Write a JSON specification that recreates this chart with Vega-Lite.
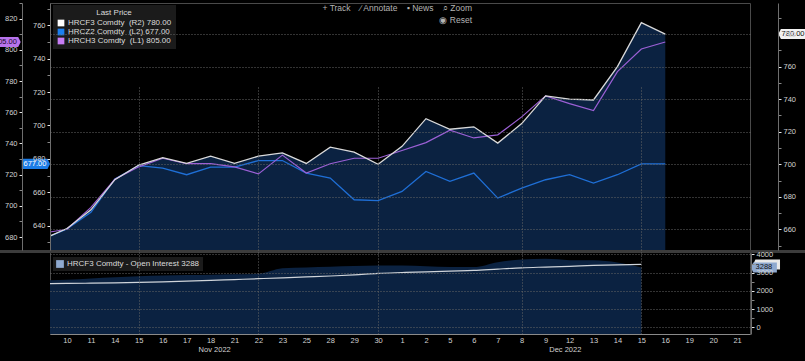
{
  "$schema": "https://vega.github.io/schema/vega-lite/v6.json",
  "width": 700,
  "height": 331,
  "autosize": {"type": "none"},
  "padding": {"left": 50, "top": 3, "right": 55, "bottom": 27},
  "background": "#000000",
  "title": {
    "text": ["+ Track\u00a0\u00a0\u00a0\u00a0\u2215 Annotate\u00a0\u00a0\u00a0\u00a0\u25aa News\u00a0\u00a0\u00a0\u00a0\u2315 Zoom", "\u25c9 Reset"],
    "frame": "group", "anchor": "start", "align": "right", "orient": "top",
    "dx": 422, "dy": 22, "offset": 0, "baseline": "top",
    "fontSize": 8.5, "fontWeight": "normal", "color": "#b4b4b4", "lineHeight": 12.5, "font": "Liberation Sans"
  },
  "datasets": {
    "px": [
      {"date": "2022-11-09", "i": -1, "f3": 654, "z2": 632, "h3": 682.5, "oi": 2570, "oima": 2395},
      {"date": "2022-11-10", "i": 0, "f3": 660.5, "z2": 638, "h3": 685, "oi": 2610, "oima": 2410},
      {"date": "2022-11-11", "i": 1, "f3": 672, "z2": 648, "h3": 699, "oi": 2680, "oima": 2425},
      {"date": "2022-11-14", "i": 2, "f3": 690.5, "z2": 668, "h3": 717, "oi": 2750, "oima": 2445},
      {"date": "2022-11-15", "i": 3, "f3": 699.5, "z2": 676, "h3": 725, "oi": 2800, "oima": 2470},
      {"date": "2022-11-16", "i": 4, "f3": 704, "z2": 674.5, "h3": 730.5, "oi": 2840, "oima": 2500},
      {"date": "2022-11-17", "i": 5, "f3": 700.5, "z2": 670.5, "h3": 727, "oi": 2870, "oima": 2540},
      {"date": "2022-11-18", "i": 6, "f3": 705, "z2": 675, "h3": 727, "oi": 2890, "oima": 2580},
      {"date": "2022-11-21", "i": 7, "f3": 700.5, "z2": 675, "h3": 725, "oi": 2910, "oima": 2625},
      {"date": "2022-11-22", "i": 8, "f3": 705, "z2": 679, "h3": 720.5, "oi": 2940, "oima": 2670},
      {"date": "2022-11-23", "i": 9, "f3": 707, "z2": 679, "h3": 732.5, "oi": 3240, "oima": 2720},
      {"date": "2022-11-25", "i": 10, "f3": 700.5, "z2": 671.5, "h3": 721, "oi": 3290, "oima": 2770},
      {"date": "2022-11-28", "i": 11, "f3": 710.5, "z2": 668.5, "h3": 727, "oi": 3330, "oima": 2820},
      {"date": "2022-11-29", "i": 12, "f3": 707.5, "z2": 655.5, "h3": 730.5, "oi": 3370, "oima": 2880},
      {"date": "2022-11-30", "i": 13, "f3": 700, "z2": 655, "h3": 730.5, "oi": 3400, "oima": 2965},
      {"date": "2022-12-01", "i": 14, "f3": 711, "z2": 660.5, "h3": 735.5, "oi": 3390, "oima": 3010},
      {"date": "2022-12-02", "i": 15, "f3": 728, "z2": 672.5, "h3": 740.5, "oi": 3350, "oima": 3050},
      {"date": "2022-12-05", "i": 16, "f3": 721.5, "z2": 666.5, "h3": 748.5, "oi": 3310, "oima": 3090},
      {"date": "2022-12-06", "i": 17, "f3": 723, "z2": 671.5, "h3": 743.5, "oi": 3310, "oima": 3126},
      {"date": "2022-12-07", "i": 18, "f3": 713, "z2": 656.5, "h3": 745.5, "oi": 3580, "oima": 3200},
      {"date": "2022-12-08", "i": 19, "f3": 725, "z2": 662.5, "h3": 757, "oi": 3720, "oima": 3268},
      {"date": "2022-12-09", "i": 20, "f3": 742, "z2": 667.5, "h3": 770.5, "oi": 3760, "oima": 3310},
      {"date": "2022-12-12", "i": 21, "f3": 740, "z2": 670.5, "h3": 765.5, "oi": 3690, "oima": 3350},
      {"date": "2022-12-13", "i": 22, "f3": 739.5, "z2": 665.5, "h3": 761, "oi": 3680, "oima": 3399},
      {"date": "2022-12-14", "i": 23, "f3": 760, "z2": 670.5, "h3": 786, "oi": 3560, "oima": 3430},
      {"date": "2022-12-15", "i": 24, "f3": 787, "z2": 677, "h3": 800.5, "oi": 3288, "oima": 3454},
      {"date": "2022-12-16", "i": 25, "f3": 780, "z2": 677, "h3": 805}
    ],
    "series": [
      {"name": "HRCF3 Comdty\u00a0\u00a0(R2) 780.00"},
      {"name": "HRCZ2 Comdty\u00a0\u00a0(L2) 677.00"},
      {"name": "HRCH3 Comdty\u00a0\u00a0(L1) 805.00"}
    ],
    "oiseries": [
      {"name": "HRCF3 Comdty - Open Interest 3288"}
    ]
  },
  "data": {"name": "px"},
  "resolve": {"scale": {"y": "independent"}, "axis": {"y": "independent", "x": "independent"}},
  "config": {
    "font": "Liberation Sans",
    "view": {"stroke": "#4a4a4a"},
    "axis": {
      "labelFont": "Liberation Sans", "labelFontSize": 7.5, "labelColor": "#d2d2d2",
      "domainColor": "#6e6e6e", "tickColor": "#bdbdbd", "gridColor": "#666666", "gridDash": [1, 2],
      "title": null
    },
    "legend": {
      "labelFont": "Liberation Sans", "titleFont": "Liberation Sans",
      "labelColor": "#dcdcdc", "labelFontSize": 8, "titleColor": "#dcdcdc", "titleFontSize": 8,
      "titleFontWeight": "normal", "titleAnchor": "middle", "titlePadding": 2,
      "symbolType": "square", "symbolSize": 45, "symbolStrokeWidth": 0, "symbolOpacity": 1,
      "rowPadding": 1, "padding": 4, "fillColor": "#1b1b1b", "labelOffset": 3
    }
  },
  "layer": [
    {
      "mark": {"type": "area", "interpolate": "monotone", "clip": true, "color": "#0b2241"},
      "encoding": {
        "x": {"field": "i", "type": "quantitative", "scale": {"domain": [-0.71, 28.54], "nice": false, "zero": false}, "axis": null},
        "y": {
          "field": "oi", "type": "quantitative",
          "scale": {"domain": [-366, 4082], "range": [331, 250], "nice": false, "zero": false},
          "axis": {
            "orient": "right", "offset": 1, "format": "d",
            "values": [0,500,1000,1500,2000,2500,3000,3500,4000],
            "labelExpr": "datum.value % 1000 == 0 ? datum.label : ''",
            "grid": true,
            "gridOpacity": {"condition": {"test": "datum.value % 1000 == 0", "value": 1}, "value": 0},
            "tickSize": 3,
            "tickColor": {"condition": {"test": "datum.value % 1000 == 0", "value": "#e6e6e6"}, "value": "#888888"},
            "labelPadding": 2, "title": null, "zindex": 1
          }
        },
        "y2": {"datum": -366}
      }
    },
    {
      "mark": {"type": "line", "interpolate": "monotone", "clip": true, "color": "#cfd4da", "strokeWidth": 1.2},
      "encoding": {
        "x": {
          "field": "i", "type": "quantitative",
          "axis": {
            "orient": "bottom", "offset": 10, "values": [6.15, 20.8],
            "labelExpr": "datum.value < 10 ? 'Nov 2022' : 'Dec 2022'",
            "domain": false, "ticks": false, "grid": false, "labelPadding": 1,
            "labelOverlap": false, "labelBound": false, "labelFlush": false, "title": null
          }
        },
        "y": {"field": "oima", "type": "quantitative", "scale": {"domain": [-366, 4082], "range": [331, 250], "nice": false, "zero": false}, "axis": null}
      }
    },
    {
      "mark": {"type": "area", "clip": true, "color": "#0b2241"},
      "encoding": {
        "x": {"field": "i", "type": "quantitative", "axis": null},
        "y": {
          "field": "f3", "type": "quantitative",
          "scale": {"domain": [647.3, 799.1], "range": [247, 0], "nice": false, "zero": false},
          "axis": {
            "orient": "right", "offset": 28,
            "values": [650,660,670,680,690,700,710,720,730,740,750,760,770,780,790],
            "labelExpr": "datum.value % 20 == 0 ? datum.label : ''",
            "grid": true,
            "gridOpacity": {"condition": {"test": "datum.value % 20 == 0", "value": 1}, "value": 0},
            "tickSize": 3,
            "tickColor": {"condition": {"test": "datum.value % 20 == 0", "value": "#e6e6e6"}, "value": "#888888"},
            "labelPadding": 2, "title": null, "zindex": 1
          }
        },
        "y2": {"datum": 647.3}
      }
    },
    {
      "mark": {"type": "line", "clip": true, "color": "#1f6fd6", "strokeWidth": 1.3},
      "encoding": {
        "x": {"field": "i", "type": "quantitative", "axis": null},
        "y": {
          "field": "z2", "type": "quantitative",
          "scale": {"domain": [625.4, 773.4], "range": [247, 0], "nice": false, "zero": false},
          "axis": {
            "orient": "left", "offset": 0,
            "values": [630,640,650,660,670,680,690,700,710,720,730,740,750,760,770],
            "labelExpr": "datum.value % 20 == 0 ? datum.label : ''",
            "grid": false, "tickSize": 3,
            "tickColor": {"condition": {"test": "datum.value % 20 == 0", "value": "#e6e6e6"}, "value": "#888888"},
            "labelPadding": 2, "title": null, "zindex": 1
          }
        }
      }
    },
    {
      "mark": {"type": "line", "clip": true, "color": "#9c60d6", "strokeWidth": 1.2},
      "encoding": {
        "x": {"field": "i", "type": "quantitative", "axis": null},
        "y": {
          "field": "h3", "type": "quantitative",
          "scale": {"domain": [671.7, 830], "range": [247, 0], "nice": false, "zero": false},
          "axis": {
            "orient": "left", "offset": 28,
            "values": [680,690,700,710,720,730,740,750,760,770,780,790,800,810,820,830],
            "labelExpr": "datum.value % 20 == 0 ? datum.label : ''",
            "grid": false, "tickSize": 3,
            "tickColor": {"condition": {"test": "datum.value % 20 == 0", "value": "#e6e6e6"}, "value": "#888888"},
            "labelPadding": 2, "title": null, "zindex": 1
          }
        }
      }
    },
    {
      "mark": {"type": "line", "clip": true, "color": "#dadada", "strokeWidth": 1.3},
      "encoding": {
        "x": {
          "field": "i", "type": "quantitative",
          "axis": {
            "orient": "bottom", "offset": 0,
            "values": [0,1,2,3,4,5,6,7,8,9,10,11,12,13,14,15,16,17,18,19,20,21,22,23,24,25,26,27,28],
            "labelExpr": "datum.value==0?'10':datum.value==1?'11':datum.value==2?'14':datum.value==3?'15':datum.value==4?'16':datum.value==5?'17':datum.value==6?'18':datum.value==7?'21':datum.value==8?'22':datum.value==9?'23':datum.value==10?'25':datum.value==11?'28':datum.value==12?'29':datum.value==13?'30':datum.value==14?'1':datum.value==15?'2':datum.value==16?'5':datum.value==17?'6':datum.value==18?'7':datum.value==19?'8':datum.value==20?'9':datum.value==21?'12':datum.value==22?'13':datum.value==23?'14':datum.value==24?'15':datum.value==25?'16':datum.value==26?'19':datum.value==27?'20':'21'",
            "ticks": false, "grid": true,
            "gridOpacity": {"condition": {"test": "datum.value==3 || datum.value==8 || datum.value==13 || datum.value==19 || datum.value==24", "value": 1}, "value": 0},
            "domainColor": "#8a8a8a", "labelPadding": 2, "labelOverlap": false, "labelBound": false,
            "labelFlush": false, "title": null, "zindex": 1
          }
        },
        "y": {"field": "f3", "type": "quantitative", "scale": {"domain": [647.3, 799.1], "range": [247, 0], "nice": false, "zero": false}, "axis": null}
      }
    },
    {
      "data": {"values": [{}]},
      "mark": {"type": "rule", "color": "#3c3c3c", "strokeWidth": 3, "clip": false},
      "encoding": {
        "x": {"datum": -2.8, "type": "quantitative", "axis": null},
        "x2": {"datum": 30.84},
        "y": {"datum": 4164, "type": "quantitative", "scale": {"domain": [-366, 4082], "range": [331, 250], "nice": false, "zero": false}, "axis": null}
      }
    },
    {
      "transform": [{"filter": "datum.i == 24"}],
      "mark": {"type": "point", "shape": "M1,-0.37L-0.82,-0.37L-1,0L-0.82,0.37L1,0.37Z", "size": 729, "filled": true, "fill": "#e8e8e8", "opacity": 1, "strokeWidth": 0, "clip": false},
      "encoding": {
        "x": {"datum": 29.23, "type": "quantitative", "axis": null},
        "y": {"field": "oima", "type": "quantitative", "scale": {"domain": [-366, 4082], "range": [331, 250], "nice": false, "zero": false}, "axis": null}
      }
    },
    {
      "transform": [{"filter": "datum.i == 24"}],
      "mark": {"type": "point", "shape": "M1,-0.385L-0.82,-0.385L-1,0L-0.82,0.385L1,0.385Z", "size": 676, "filled": true, "fill": "#8fa9cf", "opacity": 1, "strokeWidth": 0, "clip": false},
      "encoding": {
        "x": {"datum": 29.12, "type": "quantitative", "axis": null},
        "y": {"field": "oi", "type": "quantitative", "scale": {"domain": [-366, 4082], "range": [331, 250], "nice": false, "zero": false}, "axis": null}
      }
    },
    {
      "transform": [{"filter": "datum.i == 24"}],
      "mark": {"type": "text", "align": "center", "baseline": "middle", "fontSize": 7.5, "color": "#111111", "clip": false},
      "encoding": {
        "x": {"datum": 29.12, "type": "quantitative", "axis": null},
        "y": {"field": "oi", "type": "quantitative", "scale": {"domain": [-366, 4082], "range": [331, 250], "nice": false, "zero": false}, "axis": null},
        "text": {"field": "oi", "type": "quantitative", "format": "d"}
      }
    },
    {
      "transform": [{"filter": "datum.i == 25"}],
      "mark": {"type": "point", "shape": "M1,-0.357L-0.82,-0.357L-1,0L-0.82,0.357L1,0.357Z", "size": 784, "filled": true, "fill": "#f2f2f2", "opacity": 1, "strokeWidth": 0, "clip": false},
      "encoding": {
        "x": {"datum": 30.31, "type": "quantitative", "axis": null},
        "y": {"field": "f3", "type": "quantitative", "scale": {"domain": [647.3, 799.1], "range": [247, 0], "nice": false, "zero": false}, "axis": null}
      }
    },
    {
      "transform": [{"filter": "datum.i == 25"}],
      "mark": {"type": "text", "align": "left", "baseline": "middle", "fontSize": 7.5, "color": "#111111", "clip": false},
      "encoding": {
        "x": {"datum": 29.86, "type": "quantitative", "axis": null},
        "y": {"field": "f3", "type": "quantitative", "scale": {"domain": [647.3, 799.1], "range": [247, 0], "nice": false, "zero": false}, "axis": null},
        "text": {"field": "f3", "type": "quantitative", "format": ".2f"}
      }
    },
    {
      "transform": [{"filter": "datum.i == 25"}],
      "mark": {"type": "point", "shape": "M-1,-0.357L0.82,-0.357L1,0L0.82,0.357L-1,0.357Z", "size": 800, "filled": true, "fill": "#1c7ce6", "opacity": 1, "strokeWidth": 0, "clip": false},
      "encoding": {
        "x": {"datum": -1.3, "type": "quantitative", "axis": null},
        "y": {"field": "z2", "type": "quantitative", "scale": {"domain": [625.4, 773.4], "range": [247, 0], "nice": false, "zero": false}, "axis": null}
      }
    },
    {
      "transform": [{"filter": "datum.i == 25"}],
      "mark": {"type": "text", "align": "center", "baseline": "middle", "fontSize": 7.5, "color": "#ffffff", "clip": false},
      "encoding": {
        "x": {"datum": -1.34, "type": "quantitative", "axis": null},
        "y": {"field": "z2", "type": "quantitative", "scale": {"domain": [625.4, 773.4], "range": [247, 0], "nice": false, "zero": false}, "axis": null},
        "text": {"field": "z2", "type": "quantitative", "format": ".2f"}
      }
    },
    {
      "transform": [{"filter": "datum.i == 25"}],
      "mark": {"type": "point", "shape": "M-1,-0.357L0.82,-0.357L1,0L0.82,0.357L-1,0.357Z", "size": 784, "filled": true, "fill": "#b873ec", "opacity": 1, "strokeWidth": 0, "clip": false},
      "encoding": {
        "x": {"datum": -2.52, "type": "quantitative", "axis": null},
        "y": {"field": "h3", "type": "quantitative", "scale": {"domain": [671.7, 830], "range": [247, 0], "nice": false, "zero": false}, "axis": null}
      }
    },
    {
      "transform": [{"filter": "datum.i == 25"}],
      "mark": {"type": "text", "align": "center", "baseline": "middle", "fontSize": 7.5, "color": "#1a0a28", "clip": false},
      "encoding": {
        "x": {"datum": -2.57, "type": "quantitative", "axis": null},
        "y": {"field": "h3", "type": "quantitative", "scale": {"domain": [671.7, 830], "range": [247, 0], "nice": false, "zero": false}, "axis": null},
        "text": {"field": "h3", "type": "quantitative", "format": ".2f"}
      }
    },
    {
      "data": {"name": "series"},
      "mark": {"type": "point", "shape": "square", "filled": true, "opacity": 0},
      "encoding": {
        "color": {
          "field": "name", "type": "nominal",
          "scale": {
            "domain": ["HRCF3 Comdty\u00a0\u00a0(R2) 780.00", "HRCZ2 Comdty\u00a0\u00a0(L2) 677.00", "HRCH3 Comdty\u00a0\u00a0(L1) 805.00"],
            "range": ["#ffffff", "#1a7ff0", "#c77df5"]
          },
          "legend": {"orient": "none", "legendX": 3, "legendY": 2, "title": "Last Price", "symbolOpacity": 1}
        }
      }
    },
    {
      "data": {"name": "oiseries"},
      "mark": {"type": "point", "shape": "square", "filled": true, "opacity": 0},
      "encoding": {
        "fill": {
          "field": "name", "type": "nominal",
          "scale": {"range": ["#8fa9cf"]},
          "legend": {"orient": "none", "legendX": 3, "legendY": 254, "title": null, "padding": 3, "symbolSize": 60, "symbolOpacity": 1}
        }
      }
    }
  ]
}
